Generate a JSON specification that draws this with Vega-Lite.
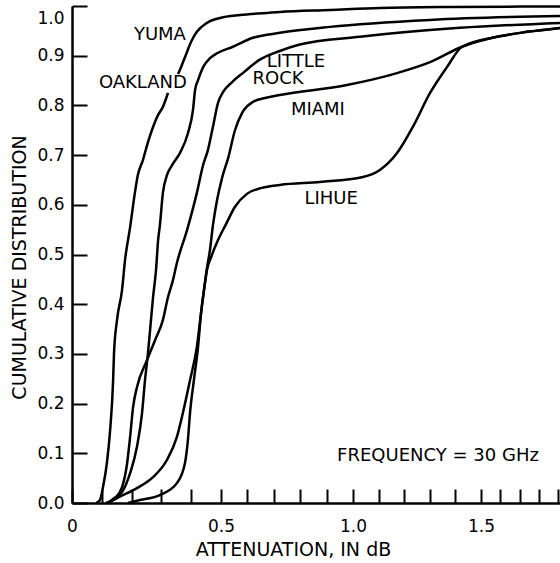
{
  "$schema": "https://vega.github.io/schema/vega-lite/v6.json",
  "autosize": {"type": "none"},
  "padding": {"left": 72, "top": 6, "right": 0, "bottom": 57},
  "width": 488,
  "height": 497,
  "background": "white",
  "config": {
    "font": "DejaVu Sans",
    "view": {"stroke": null},
    "axis": {"grid": false, "domainColor": "black", "domainWidth": 2.5, "tickColor": "black", "tickWidth": 2, "labelColor": "black", "titleColor": "black", "titleFontWeight": "normal", "labelFontSize": 17, "titleFontSize": 19}
  },
  "datasets": {
    "curves": [
      {"series": "YUMA", "part": 1, "x": 0.081, "y": 0.0},
      {"series": "YUMA", "part": 1, "x": 0.094, "y": 0.006},
      {"series": "YUMA", "part": 1, "x": 0.104, "y": 0.032},
      {"series": "YUMA", "part": 1, "x": 0.117, "y": 0.08},
      {"series": "YUMA", "part": 1, "x": 0.128, "y": 0.147},
      {"series": "YUMA", "part": 1, "x": 0.138, "y": 0.247},
      {"series": "YUMA", "part": 1, "x": 0.141, "y": 0.302},
      {"series": "YUMA", "part": 1, "x": 0.151, "y": 0.368},
      {"series": "YUMA", "part": 1, "x": 0.168, "y": 0.429},
      {"series": "YUMA", "part": 1, "x": 0.178, "y": 0.489},
      {"series": "YUMA", "part": 1, "x": 0.195, "y": 0.555},
      {"series": "YUMA", "part": 1, "x": 0.211, "y": 0.624},
      {"series": "YUMA", "part": 1, "x": 0.221, "y": 0.66},
      {"series": "YUMA", "part": 1, "x": 0.238, "y": 0.69},
      {"series": "YUMA", "part": 1, "x": 0.252, "y": 0.72},
      {"series": "YUMA", "part": 1, "x": 0.268, "y": 0.75},
      {"series": "YUMA", "part": 1, "x": 0.289, "y": 0.781},
      {"series": "YUMA", "part": 1, "x": 0.305, "y": 0.797},
      {"series": "YUMA", "part": 1, "x": 0.322, "y": 0.825},
      {"series": "YUMA", "part": 2, "x": 0.356, "y": 0.863},
      {"series": "YUMA", "part": 2, "x": 0.362, "y": 0.871},
      {"series": "YUMA", "part": 2, "x": 0.379, "y": 0.897},
      {"series": "YUMA", "part": 2, "x": 0.403, "y": 0.932},
      {"series": "YUMA", "part": 2, "x": 0.419, "y": 0.948},
      {"series": "YUMA", "part": 2, "x": 0.453, "y": 0.966},
      {"series": "YUMA", "part": 2, "x": 0.497, "y": 0.976},
      {"series": "YUMA", "part": 2, "x": 0.572, "y": 0.982},
      {"series": "YUMA", "part": 2, "x": 0.674, "y": 0.986},
      {"series": "YUMA", "part": 2, "x": 0.723, "y": 0.988},
      {"series": "YUMA", "part": 2, "x": 0.913, "y": 0.992},
      {"series": "YUMA", "part": 2, "x": 1.105, "y": 0.996},
      {"series": "YUMA", "part": 2, "x": 1.379, "y": 0.998},
      {"series": "YUMA", "part": 2, "x": 1.91, "y": 0.999},

      {"series": "OAKLAND", "part": 1, "x": 0.121, "y": 0.0},
      {"series": "OAKLAND", "part": 1, "x": 0.138, "y": 0.008},
      {"series": "OAKLAND", "part": 1, "x": 0.168, "y": 0.022},
      {"series": "OAKLAND", "part": 1, "x": 0.195, "y": 0.06},
      {"series": "OAKLAND", "part": 1, "x": 0.218, "y": 0.113},
      {"series": "OAKLAND", "part": 1, "x": 0.235, "y": 0.181},
      {"series": "OAKLAND", "part": 1, "x": 0.245, "y": 0.247},
      {"series": "OAKLAND", "part": 1, "x": 0.255, "y": 0.302},
      {"series": "OAKLAND", "part": 1, "x": 0.262, "y": 0.348},
      {"series": "OAKLAND", "part": 1, "x": 0.272, "y": 0.414},
      {"series": "OAKLAND", "part": 1, "x": 0.282, "y": 0.469},
      {"series": "OAKLAND", "part": 1, "x": 0.289, "y": 0.529},
      {"series": "OAKLAND", "part": 1, "x": 0.295, "y": 0.559},
      {"series": "OAKLAND", "part": 1, "x": 0.305, "y": 0.624},
      {"series": "OAKLAND", "part": 1, "x": 0.319, "y": 0.66},
      {"series": "OAKLAND", "part": 1, "x": 0.336, "y": 0.68},
      {"series": "OAKLAND", "part": 1, "x": 0.362, "y": 0.704},
      {"series": "OAKLAND", "part": 1, "x": 0.389, "y": 0.744},
      {"series": "OAKLAND", "part": 1, "x": 0.406, "y": 0.791},
      {"series": "OAKLAND", "part": 1, "x": 0.413, "y": 0.831},
      {"series": "OAKLAND", "part": 1, "x": 0.423, "y": 0.851},
      {"series": "OAKLAND", "part": 1, "x": 0.44, "y": 0.877},
      {"series": "OAKLAND", "part": 1, "x": 0.463, "y": 0.895},
      {"series": "OAKLAND", "part": 1, "x": 0.487, "y": 0.905},
      {"series": "OAKLAND", "part": 1, "x": 0.545, "y": 0.918},
      {"series": "OAKLAND", "part": 1, "x": 0.621, "y": 0.936},
      {"series": "OAKLAND", "part": 1, "x": 0.723, "y": 0.946},
      {"series": "OAKLAND", "part": 1, "x": 0.913, "y": 0.958},
      {"series": "OAKLAND", "part": 1, "x": 1.301, "y": 0.972},
      {"series": "OAKLAND", "part": 1, "x": 1.91, "y": 0.98},

      {"series": "LITTLE ROCK", "part": 1, "x": 0.114, "y": 0.0},
      {"series": "LITTLE ROCK", "part": 1, "x": 0.144, "y": 0.01},
      {"series": "LITTLE ROCK", "part": 1, "x": 0.168, "y": 0.032},
      {"series": "LITTLE ROCK", "part": 1, "x": 0.185, "y": 0.08},
      {"series": "LITTLE ROCK", "part": 1, "x": 0.195, "y": 0.133},
      {"series": "LITTLE ROCK", "part": 1, "x": 0.205, "y": 0.193},
      {"series": "LITTLE ROCK", "part": 1, "x": 0.218, "y": 0.233},
      {"series": "LITTLE ROCK", "part": 1, "x": 0.252, "y": 0.288},
      {"series": "LITTLE ROCK", "part": 1, "x": 0.279, "y": 0.328},
      {"series": "LITTLE ROCK", "part": 1, "x": 0.305, "y": 0.368},
      {"series": "LITTLE ROCK", "part": 1, "x": 0.322, "y": 0.414},
      {"series": "LITTLE ROCK", "part": 1, "x": 0.339, "y": 0.449},
      {"series": "LITTLE ROCK", "part": 1, "x": 0.352, "y": 0.483},
      {"series": "LITTLE ROCK", "part": 1, "x": 0.386, "y": 0.549},
      {"series": "LITTLE ROCK", "part": 1, "x": 0.419, "y": 0.624},
      {"series": "LITTLE ROCK", "part": 1, "x": 0.44, "y": 0.68},
      {"series": "LITTLE ROCK", "part": 1, "x": 0.456, "y": 0.71},
      {"series": "LITTLE ROCK", "part": 1, "x": 0.473, "y": 0.757},
      {"series": "LITTLE ROCK", "part": 1, "x": 0.49, "y": 0.805},
      {"series": "LITTLE ROCK", "part": 1, "x": 0.508, "y": 0.827},
      {"series": "LITTLE ROCK", "part": 1, "x": 0.542, "y": 0.847},
      {"series": "LITTLE ROCK", "part": 1, "x": 0.587, "y": 0.867},
      {"series": "LITTLE ROCK", "part": 1, "x": 0.644, "y": 0.891},
      {"series": "LITTLE ROCK", "part": 1, "x": 0.72, "y": 0.909},
      {"series": "LITTLE ROCK", "part": 1, "x": 0.795, "y": 0.922},
      {"series": "LITTLE ROCK", "part": 1, "x": 1.027, "y": 0.938},
      {"series": "LITTLE ROCK", "part": 1, "x": 1.418, "y": 0.956},
      {"series": "LITTLE ROCK", "part": 1, "x": 1.91, "y": 0.966},

      {"series": "MIAMI", "part": 1, "x": 0.121, "y": 0.0},
      {"series": "MIAMI", "part": 1, "x": 0.151, "y": 0.01},
      {"series": "MIAMI", "part": 1, "x": 0.218, "y": 0.03},
      {"series": "MIAMI", "part": 1, "x": 0.272, "y": 0.052},
      {"series": "MIAMI", "part": 1, "x": 0.319, "y": 0.087},
      {"series": "MIAMI", "part": 1, "x": 0.352, "y": 0.133},
      {"series": "MIAMI", "part": 1, "x": 0.372, "y": 0.181},
      {"series": "MIAMI", "part": 1, "x": 0.396, "y": 0.247},
      {"series": "MIAMI", "part": 1, "x": 0.419, "y": 0.314},
      {"series": "MIAMI", "part": 1, "x": 0.433, "y": 0.382},
      {"series": "MIAMI", "part": 1, "x": 0.443, "y": 0.429},
      {"series": "MIAMI", "part": 1, "x": 0.453, "y": 0.473},
      {"series": "MIAMI", "part": 1, "x": 0.463, "y": 0.509},
      {"series": "MIAMI", "part": 1, "x": 0.473, "y": 0.559},
      {"series": "MIAMI", "part": 1, "x": 0.487, "y": 0.61},
      {"series": "MIAMI", "part": 1, "x": 0.504, "y": 0.654},
      {"series": "MIAMI", "part": 1, "x": 0.527, "y": 0.694},
      {"series": "MIAMI", "part": 1, "x": 0.553, "y": 0.75},
      {"series": "MIAMI", "part": 1, "x": 0.58, "y": 0.785},
      {"series": "MIAMI", "part": 1, "x": 0.621, "y": 0.807},
      {"series": "MIAMI", "part": 1, "x": 0.667, "y": 0.815},
      {"series": "MIAMI", "part": 1, "x": 0.723, "y": 0.821},
      {"series": "MIAMI", "part": 1, "x": 0.977, "y": 0.841},
      {"series": "MIAMI", "part": 1, "x": 1.172, "y": 0.865},
      {"series": "MIAMI", "part": 1, "x": 1.301, "y": 0.887},
      {"series": "MIAMI", "part": 1, "x": 1.426, "y": 0.918},
      {"series": "MIAMI", "part": 1, "x": 1.583, "y": 0.938},
      {"series": "MIAMI", "part": 1, "x": 1.739, "y": 0.948},
      {"series": "MIAMI", "part": 1, "x": 1.91, "y": 0.956},

      {"series": "LIHUE", "part": 1, "x": 0.188, "y": 0.0},
      {"series": "LIHUE", "part": 1, "x": 0.228, "y": 0.006},
      {"series": "LIHUE", "part": 1, "x": 0.295, "y": 0.016},
      {"series": "LIHUE", "part": 1, "x": 0.352, "y": 0.04},
      {"series": "LIHUE", "part": 1, "x": 0.379, "y": 0.08},
      {"series": "LIHUE", "part": 1, "x": 0.389, "y": 0.127},
      {"series": "LIHUE", "part": 1, "x": 0.396, "y": 0.181},
      {"series": "LIHUE", "part": 1, "x": 0.409, "y": 0.247},
      {"series": "LIHUE", "part": 1, "x": 0.423, "y": 0.314},
      {"series": "LIHUE", "part": 1, "x": 0.433, "y": 0.382},
      {"series": "LIHUE", "part": 1, "x": 0.443, "y": 0.429},
      {"series": "LIHUE", "part": 1, "x": 0.453, "y": 0.469},
      {"series": "LIHUE", "part": 1, "x": 0.467, "y": 0.495},
      {"series": "LIHUE", "part": 1, "x": 0.49, "y": 0.529},
      {"series": "LIHUE", "part": 1, "x": 0.519, "y": 0.561},
      {"series": "LIHUE", "part": 1, "x": 0.553, "y": 0.596},
      {"series": "LIHUE", "part": 1, "x": 0.598, "y": 0.622},
      {"series": "LIHUE", "part": 1, "x": 0.655, "y": 0.634},
      {"series": "LIHUE", "part": 1, "x": 0.723, "y": 0.64},
      {"series": "LIHUE", "part": 1, "x": 0.875, "y": 0.646},
      {"series": "LIHUE", "part": 1, "x": 1.039, "y": 0.656},
      {"series": "LIHUE", "part": 1, "x": 1.105, "y": 0.67},
      {"series": "LIHUE", "part": 1, "x": 1.172, "y": 0.704},
      {"series": "LIHUE", "part": 1, "x": 1.234, "y": 0.757},
      {"series": "LIHUE", "part": 1, "x": 1.301, "y": 0.825},
      {"series": "LIHUE", "part": 1, "x": 1.367, "y": 0.877},
      {"series": "LIHUE", "part": 1, "x": 1.426, "y": 0.918},
      {"series": "LIHUE", "part": 1, "x": 1.583, "y": 0.938},
      {"series": "LIHUE", "part": 1, "x": 1.739, "y": 0.948},
      {"series": "LIHUE", "part": 1, "x": 1.91, "y": 0.956}
    ],
    "labels": [
      {"text": "YUMA", "x": 0.295, "y": 0.942},
      {"text": "OAKLAND", "x": 0.238, "y": 0.845},
      {"text": "LITTLE", "x": 0.784, "y": 0.887},
      {"text": "ROCK", "x": 0.716, "y": 0.853},
      {"text": "MIAMI", "x": 0.867, "y": 0.791},
      {"text": "LIHUE", "x": 0.917, "y": 0.612},
      {"text": "FREQUENCY = 30 GHz", "x": 1.332, "y": 0.095}
    ]
  },
  "encoding": {
    "x": {
      "field": "x", "type": "quantitative",
      "scale": {"domain": [0, 0.5, 1, 1.5, 1.91], "range": [0, 149, 281, 409, 488], "nice": false, "zero": false},
      "axis": {
        "title": "ATTENUATION, IN dB",
        "values": [0, 0.1, 0.2, 0.3, 0.4, 0.5, 0.6, 0.7, 0.8, 0.9, 1, 1.1, 1.2, 1.3, 1.4, 1.5, 1.6, 1.7, 1.8, 1.9],
        "labelExpr": "datum.value == 0 ? '0' : (datum.value == 0.5 || datum.value == 1 || datum.value == 1.5) ? format(datum.value, '.1f') : ''",
        "tickSize": -14,
        "labelPadding": 29,
        "labelFlush": false,
        "labelOverlap": false,
        "titleX": 221,
        "titleY": 46,
        "titleBaseline": "middle"
      }
    },
    "y": {
      "field": "y", "type": "quantitative",
      "scale": {"domain": [0, 1], "nice": false},
      "axis": {
        "title": "CUMULATIVE DISTRIBUTION",
        "values": [0, 0.1, 0.2, 0.3, 0.4, 0.5, 0.6, 0.7, 0.8, 0.9, 1],
        "format": ".1f",
        "tickSize": -15,
        "labelPadding": 23,
        "labelFlush": false,
        "labelOverlap": false,
        "labelBaseline": {"condition": {"test": "datum.value == 1", "value": "top"}, "value": "middle"},
        "labelOffset": {"condition": {"test": "datum.value == 1", "value": 4}, "value": 0},
        "titleX": -53,
        "titleY": 261,
        "titleBaseline": "middle",
        "titleAlign": "center"
      }
    }
  },
  "layer": [
    {
      "data": {"name": "curves"},
      "mark": {"type": "line", "color": "black", "strokeWidth": 2.5, "interpolate": "monotone"},
      "encoding": {"detail": [{"field": "series"}, {"field": "part"}]}
    },
    {
      "mark": {"type": "rule", "color": "black", "strokeWidth": 2.5},
      "encoding": {"y": {"datum": 1}, "x": null}
    },
    {
      "data": {"name": "labels"},
      "mark": {"type": "text", "fontSize": 18, "color": "black", "align": "center", "baseline": "middle", "font": "DejaVu Sans"},
      "encoding": {"text": {"field": "text"}}
    }
  ]
}
